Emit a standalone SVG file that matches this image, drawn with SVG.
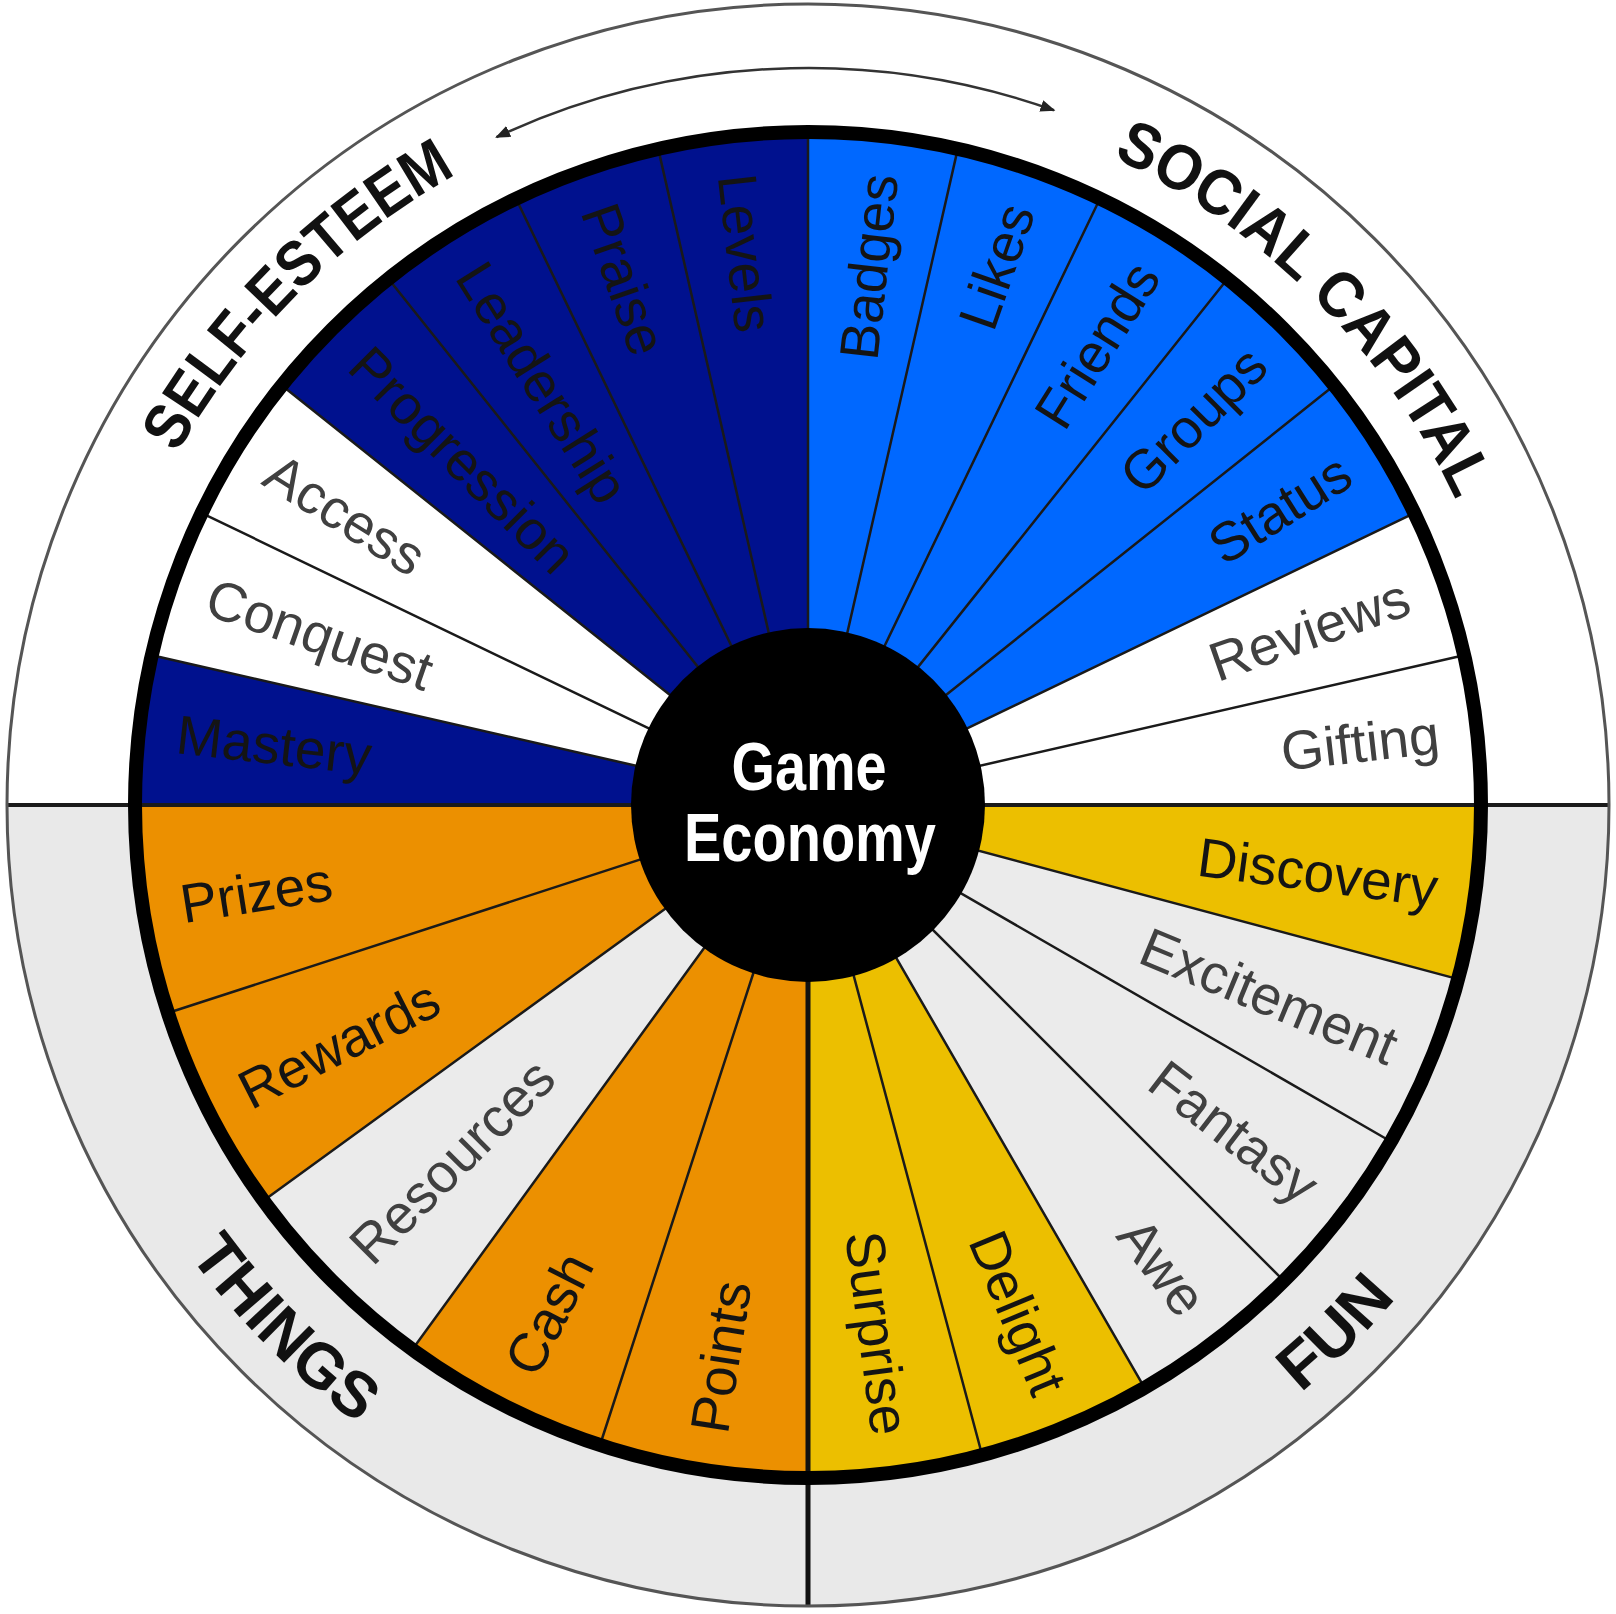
<svg xmlns="http://www.w3.org/2000/svg" xmlns:xlink="http://www.w3.org/1999/xlink" width="1616" height="1614" viewBox="0 0 1616 1614">
<style>
.lbl{font-family:"Liberation Sans",Arial,sans-serif;font-size:55px;fill:#141414}
.lt{fill:#404040}
.e{text-anchor:end}
.cat{font-family:"Liberation Sans",Arial,sans-serif;font-weight:bold;font-size:64px;fill:#111;text-anchor:middle}
.ctr{font-family:"Liberation Sans",Arial,sans-serif;font-weight:bold;font-size:68px;fill:#fff;text-anchor:middle}
.sep{stroke:#1a1a1a;stroke-width:2.5}
.db{fill:#00118e}.bb{fill:#0068ff}.wh{fill:#ffffff}.gr{fill:#ebebeb}.or{fill:#ec9000}.ye{fill:#ecbf00}
</style>
<defs>
<marker id="ah" viewBox="0 0 10 10" refX="9" refY="5" markerWidth="6" markerHeight="6" orient="auto-start-reverse"><path d="M0,1 L10,5 L0,9 z" fill="#222"/></marker>
<path id="arcSE" d="M110.6 618.1 A722 722 0 0 1 621.1 107.6"/>
<path id="arcSC" d="M993.3 113.4 A716 716 0 0 1 1499.6 619.7"/>
<path id="arcTH" d="M69.1 1003 A765 765 0 0 0 610 1543.9"/>
<path id="arcFU" d="M1006.5 1545.9 A767 767 0 0 0 1548.9 1003.5"/>
</defs>
<g id="background">
<circle cx="808" cy="805" r="801" fill="#ffffff"/>
<path d="M7 805 A801 801 0 0 0 1609 805 Z" fill="#e9e9e9"/>
</g>
<g id="self-esteem">
<g id="mastery"><path class="db" d="M808 805 L134 805 A674 674 0 0 1 150.9 655 Z"/><text class="lbl" x="177" y="733.9" dy=".35em" transform="rotate(6.43 177 733.9)">Mastery</text></g>
<g id="conquest"><path class="wh" d="M808 805 L150.9 655 A674 674 0 0 1 200.7 512.6 Z"/><text class="lbl lt" x="208.6" y="595.3" dy=".35em" transform="rotate(19.29 208.6 595.3)">Conquest</text></g>
<g id="access"><path class="wh" d="M808 805 L200.7 512.6 A674 674 0 0 1 281 384.8 Z"/><text class="lbl lt" x="270.3" y="467.2" dy=".35em" transform="rotate(32.14 270.3 467.2)">Access</text></g>
<g id="progression"><path class="db" d="M808 805 L281 384.8 A674 674 0 0 1 387.8 278 Z"/><text class="lbl" x="359" y="356" dy=".35em" transform="rotate(45 359 356)">Progression</text></g>
<g id="leadership"><path class="db" d="M808 805 L387.8 278 A674 674 0 0 1 515.6 197.7 Z"/><text class="lbl" x="470.2" y="267.3" dy=".35em" transform="rotate(57.86 470.2 267.3)">Leadership</text></g>
<g id="praise"><path class="db" d="M808 805 L515.6 197.7 A674 674 0 0 1 658 147.9 Z"/><text class="lbl" x="598.3" y="205.6" dy=".35em" transform="rotate(70.71 598.3 205.6)">Praise</text></g>
<g id="levels"><path class="db" d="M808 805 L658 147.9 A674 674 0 0 1 808 131 Z"/><text class="lbl" x="736.9" y="174" dy=".35em" transform="rotate(83.57 736.9 174)">Levels</text></g>
</g>
<g id="social-capital">
<g id="badges"><path class="bb" d="M808 805 L808 131 A674 674 0 0 1 958 147.9 Z"/><text class="lbl e" x="879.1" y="174" dy=".35em" transform="rotate(-83.57 879.1 174)">Badges</text></g>
<g id="likes"><path class="bb" d="M808 805 L958 147.9 A674 674 0 0 1 1100.4 197.7 Z"/><text class="lbl e" x="1017.7" y="205.6" dy=".35em" transform="rotate(-70.71 1017.7 205.6)">Likes</text></g>
<g id="friends"><path class="bb" d="M808 805 L1100.4 197.7 A674 674 0 0 1 1228.2 278 Z"/><text class="lbl e" x="1145.8" y="267.3" dy=".35em" transform="rotate(-57.86 1145.8 267.3)">Friends</text></g>
<g id="groups"><path class="bb" d="M808 805 L1228.2 278 A674 674 0 0 1 1335 384.8 Z"/><text class="lbl e" x="1257" y="356" dy=".35em" transform="rotate(-45 1257 356)">Groups</text></g>
<g id="status"><path class="bb" d="M808 805 L1335 384.8 A674 674 0 0 1 1415.3 512.6 Z"/><text class="lbl e" x="1345.7" y="467.2" dy=".35em" transform="rotate(-32.14 1345.7 467.2)">Status</text></g>
<g id="reviews"><path class="wh" d="M808 805 L1415.3 512.6 A674 674 0 0 1 1465.1 655 Z"/><text class="lbl lt e" x="1407.4" y="595.3" dy=".35em" transform="rotate(-19.29 1407.4 595.3)">Reviews</text></g>
<g id="gifting"><path class="wh" d="M808 805 L1465.1 655 A674 674 0 0 1 1482 805 Z"/><text class="lbl lt e" x="1439" y="733.9" dy=".35em" transform="rotate(-6.43 1439 733.9)">Gifting</text></g>
</g>
<g id="fun">
<g id="discovery"><path class="ye" d="M808 805 L1482 805 A674 674 0 0 1 1459 979.4 Z"/><text class="lbl e" x="1437.6" y="887.9" dy=".35em" transform="rotate(7.5 1437.6 887.9)">Discovery</text></g>
<g id="excitement"><path class="gr" d="M808 805 L1459 979.4 A674 674 0 0 1 1391.7 1142 Z"/><text class="lbl lt e" x="1394.7" y="1048" dy=".35em" transform="rotate(22.5 1394.7 1048)">Excitement</text></g>
<g id="fantasy"><path class="gr" d="M808 805 L1391.7 1142 A674 674 0 0 1 1284.6 1281.6 Z"/><text class="lbl lt e" x="1311.8" y="1191.6" dy=".35em" transform="rotate(37.5 1311.8 1191.6)">Fantasy</text></g>
<g id="awe"><path class="gr" d="M808 805 L1284.6 1281.6 A674 674 0 0 1 1145 1388.7 Z"/><text class="lbl lt e" x="1194.6" y="1308.8" dy=".35em" transform="rotate(52.5 1194.6 1308.8)">Awe</text></g>
<g id="delight"><path class="ye" d="M808 805 L1145 1388.7 A674 674 0 0 1 982.4 1456 Z"/><text class="lbl e" x="1051" y="1391.7" dy=".35em" transform="rotate(67.5 1051 1391.7)">Delight</text></g>
<g id="surprise"><path class="ye" d="M808 805 L982.4 1456 A674 674 0 0 1 808 1479 Z"/><text class="lbl e" x="890.9" y="1434.6" dy=".35em" transform="rotate(82.5 890.9 1434.6)">Surprise</text></g>
</g>
<g id="things">
<g id="points"><path class="or" d="M808 805 L808 1479 A674 674 0 0 1 599.7 1446 Z"/><text class="lbl" x="708.7" y="1432.2" dy=".35em" transform="rotate(-81 708.7 1432.2)">Points</text></g>
<g id="cash"><path class="or" d="M808 805 L599.7 1446 A674 674 0 0 1 411.8 1350.3 Z"/><text class="lbl" x="519.7" y="1370.8" dy=".35em" transform="rotate(-63 519.7 1370.8)">Cash</text></g>
<g id="resources"><path class="gr" d="M808 805 L411.8 1350.3 A674 674 0 0 1 262.7 1201.2 Z"/><text class="lbl lt" x="359" y="1254" dy=".35em" transform="rotate(-45 359 1254)">Resources</text></g>
<g id="rewards"><path class="or" d="M808 805 L262.7 1201.2 A674 674 0 0 1 167 1013.3 Z"/><text class="lbl" x="242.2" y="1093.3" dy=".35em" transform="rotate(-27 242.2 1093.3)">Rewards</text></g>
<g id="prizes"><path class="or" d="M808 805 L167 1013.3 A674 674 0 0 1 134 805 Z"/><text class="lbl" x="180.8" y="904.3" dy=".35em" transform="rotate(-9 180.8 904.3)">Prizes</text></g>
</g>
<g id="separators">
<path class="sep" d="M808 805 L150.9 655 M808 805 L200.7 512.6 M808 805 L281 384.8 M808 805 L387.8 278 M808 805 L515.6 197.7 M808 805 L658 147.9 M808 805 L808 131 M808 805 L958 147.9 M808 805 L1100.4 197.7 M808 805 L1228.2 278 M808 805 L1335 384.8 M808 805 L1415.3 512.6 M808 805 L1465.1 655 M808 805 L1459 979.4 M808 805 L1391.7 1142 M808 805 L1284.6 1281.6 M808 805 L1145 1388.7 M808 805 L982.4 1456 M808 805 L599.7 1446 M808 805 L411.8 1350.3 M808 805 L262.7 1201.2 M808 805 L167 1013.3"/>
<path d="M7 805 L1609 805" stroke="#1a1a1a" stroke-width="4"/>
<path d="M808 805 L808 1606" stroke="#111" stroke-width="5"/>
</g>
<g id="rings">
<circle cx="808" cy="805" r="673" fill="none" stroke="#000" stroke-width="14"/>
<circle cx="808" cy="805" r="801" fill="none" stroke="#555" stroke-width="3"/>
</g>
<g id="center">
<circle cx="808" cy="805" r="177" fill="#000"/>
<text class="ctr" x="809" y="790" textLength="155" lengthAdjust="spacingAndGlyphs">Game</text>
<text class="ctr" x="810" y="861" textLength="252" lengthAdjust="spacingAndGlyphs">Economy</text>
</g>
<g id="categories">
<text class="cat"><textPath href="#arcSE" startOffset="50%" textLength="400" lengthAdjust="spacingAndGlyphs">SELF-ESTEEM</textPath></text>
<text class="cat"><textPath href="#arcSC" startOffset="50%" textLength="495" lengthAdjust="spacingAndGlyphs">SOCIAL CAPITAL</textPath></text>
<text class="cat"><textPath href="#arcTH" startOffset="50%" textLength="240" lengthAdjust="spacingAndGlyphs">THINGS</textPath></text>
<text class="cat"><textPath href="#arcFU" startOffset="50%" textLength="135" lengthAdjust="spacingAndGlyphs">FUN</textPath></text>
</g>
<g id="connectors">
<path d="M496.5 137.1 A737 737 0 0 1 1054 110.3" fill="none" stroke="#333" stroke-width="2.5" marker-start="url(#ah)" marker-end="url(#ah)"/>
</g>
</svg>
